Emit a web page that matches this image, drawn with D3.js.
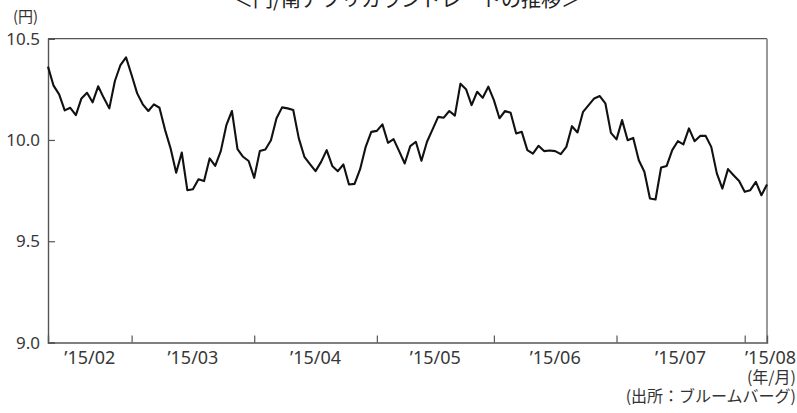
<!DOCTYPE html>
<html>
<head>
<meta charset="utf-8">
<script src="https://cdn.jsdelivr.net/npm/d3@7"></script>
<style>
  body { margin: 0; background: #fff; }
  svg { display: block; font-family: "Noto Sans CJK JP", "Noto Sans", sans-serif; }
  .num { font-family: "Noto Sans", "DejaVu Sans", sans-serif; }
</style>
</head>
<body>
<svg id="chart"></svg>
<script>
// 円/南アフリカランド 日次レート (営業日, 2015/02/09 - 2015/08/07)
let startDate = "2015-02-09";
let values = [
    10.362, 10.268, 10.225, 10.146, 10.159, 10.123, 10.205, 10.233, 10.186, 10.265,
    10.208, 10.156, 10.291, 10.37, 10.408, 10.321, 10.23, 10.176, 10.143, 10.176,
    10.159, 10.05, 9.958, 9.838, 9.938, 9.752, 9.757, 9.806, 9.797, 9.909,
    9.872, 9.945, 10.073, 10.143, 9.955, 9.917, 9.896, 9.813, 9.945, 9.953,
    9.999, 10.107, 10.161, 10.156, 10.148, 10.008, 9.917, 9.881, 9.846, 9.892,
    9.95, 9.872, 9.846, 9.879, 9.78, 9.783, 9.856, 9.966, 10.04, 10.045,
    10.077, 9.986, 10.004, 9.945, 9.884, 9.97, 9.991, 9.897, 9.991, 10.052,
    10.114, 10.11, 10.143, 10.12, 10.278, 10.251, 10.172, 10.238, 10.208, 10.263,
    10.197, 10.107, 10.143, 10.134, 10.032, 10.04, 9.95, 9.933, 9.971, 9.945,
    9.948, 9.945, 9.93, 9.966, 10.068, 10.037, 10.139, 10.172, 10.205, 10.217,
    10.181, 10.035, 10.003, 10.098, 9.999, 10.01, 9.9, 9.843, 9.711, 9.706,
    9.864, 9.872, 9.95, 9.994, 9.978, 10.057, 9.994, 10.02, 10.02, 9.966,
    9.835, 9.76, 9.856, 9.826, 9.797, 9.744, 9.752, 9.793, 9.727, 9.78
];
let monthLabels = ["’15/02", "’15/03", "’15/04", "’15/05", "’15/06", "’15/07", "’15/08"];
let yTicks = [9.0, 9.5, 10.0, 10.5];

let title = "＜円/南アフリカランドレートの推移＞";
let unitY = "(円)";
let unitX = "(年/月)";
let source = "(出所：ブルームバーグ)";

// 営業日(平日)の日付を並べる
let dates = [];
let d = new Date(startDate + "T00:00:00");
while (dates.length < values.length) {
    if (d.getDay() !== 0 && d.getDay() !== 6) dates.push(new Date(d));
    d.setDate(d.getDate() + 1);
}
let data = values.map((v, i) => ({i: i, date: dates[i], v: v}));

// 月の変わり目のインデックス
let monthStarts = [];
for (let i = 1; i < dates.length; i++) {
    if (dates[i].getMonth() !== dates[i - 1].getMonth()) monthStarts.push(i);
}

let width = 797;
let height = 413;
let plotL = 48, plotR = 767, plotT = 38.7, plotB = 342.5;

let svg = d3.select("#chart")
    .attr("width", width)
    .attr("height", height);

let scaleX = d3.scaleLinear()
    .domain([0, values.length - 1])
    .range([plotL, plotR]);

let scaleY = d3.scaleLinear()
    .domain([9.0, 10.5])
    .range([plotB, plotT]);

// 枠
svg.append("line")
    .attr("x1", plotL).attr("x2", plotR).attr("y1", plotT).attr("y2", plotT)
    .attr("stroke", "#555").attr("stroke-width", 1.2);
svg.append("line")
    .attr("x1", plotR).attr("x2", plotR).attr("y1", plotT).attr("y2", plotB)
    .attr("stroke", "#999").attr("stroke-width", 2);

// 縦軸 (目盛は内向き)
let axisY = d3.axisRight(scaleY)
    .tickValues(yTicks)
    .tickSize(7)
    .tickFormat("");
let gy = svg.append("g")
    .attr("transform", `translate(${plotL},0)`)
    .call(axisY);
gy.select(".domain").attr("stroke", "#555").attr("stroke-width", 1.4);
gy.selectAll(".tick line").attr("stroke", "#555").attr("stroke-width", 1.2);

svg.selectAll(".ylabel")
    .data(yTicks)
    .enter()
    .append("text")
    .attr("class", "num")
    .attr("x", plotL - 8)
    .attr("y", v => scaleY(v) + 6)
    .attr("text-anchor", "end")
    .attr("font-size", 17)
    .attr("fill", "#383838")
    .text(v => d3.format(".1f")(v));

// 横軸 (月の境目に内向きの目盛)
let axisX = d3.axisTop(scaleX)
    .tickValues(monthStarts)
    .tickSize(7)
    .tickFormat("");
let gx = svg.append("g")
    .attr("transform", `translate(0,${plotB})`)
    .call(axisX);
gx.select(".domain").attr("stroke", "#555").attr("stroke-width", 1.4);
gx.selectAll(".tick line").attr("stroke", "#555").attr("stroke-width", 1.2);

// 月ラベルは各月の区間の中央に置く
let bounds = [0].concat(monthStarts).concat([values.length - 1]);
svg.selectAll(".xlabel")
    .data(monthLabels)
    .enter()
    .append("text")
    .attr("class", "num")
    .attr("x", (m, k) => k === monthLabels.length - 1 ? width - 1 : scaleX((bounds[k] + bounds[k + 1]) / 2))
    .attr("y", 364)
    .attr("text-anchor", (m, k) => k === monthLabels.length - 1 ? "end" : "middle")
    .attr("font-size", 18)
    .attr("fill", "#383838")
    .text(m => m);

// 折れ線
let line = d3.line()
    .x(p => scaleX(p.i))
    .y(p => scaleY(p.v));

svg.append("path")
    .datum(data)
    .attr("d", line)
    .attr("fill", "none")
    .attr("stroke", "#111")
    .attr("stroke-width", 2.1)
    .attr("stroke-linejoin", "round");

// テキスト類
svg.append("text")
    .attr("x", 407).attr("y", 7)
    .attr("text-anchor", "middle")
    .attr("font-size", 20)
    .attr("fill", "#222")
    .text(title);

svg.append("text")
    .attr("x", 13).attr("y", 22)
    .attr("font-size", 15)
    .attr("fill", "#333")
    .text(unitY);

svg.append("text")
    .attr("x", width - 1).attr("y", 383)
    .attr("text-anchor", "end")
    .attr("font-size", 16)
    .attr("fill", "#333")
    .text(unitX);

svg.append("text")
    .attr("x", width - 1).attr("y", 402)
    .attr("text-anchor", "end")
    .attr("font-size", 16)
    .attr("fill", "#333")
    .text(source);
</script>
</body>
</html>
